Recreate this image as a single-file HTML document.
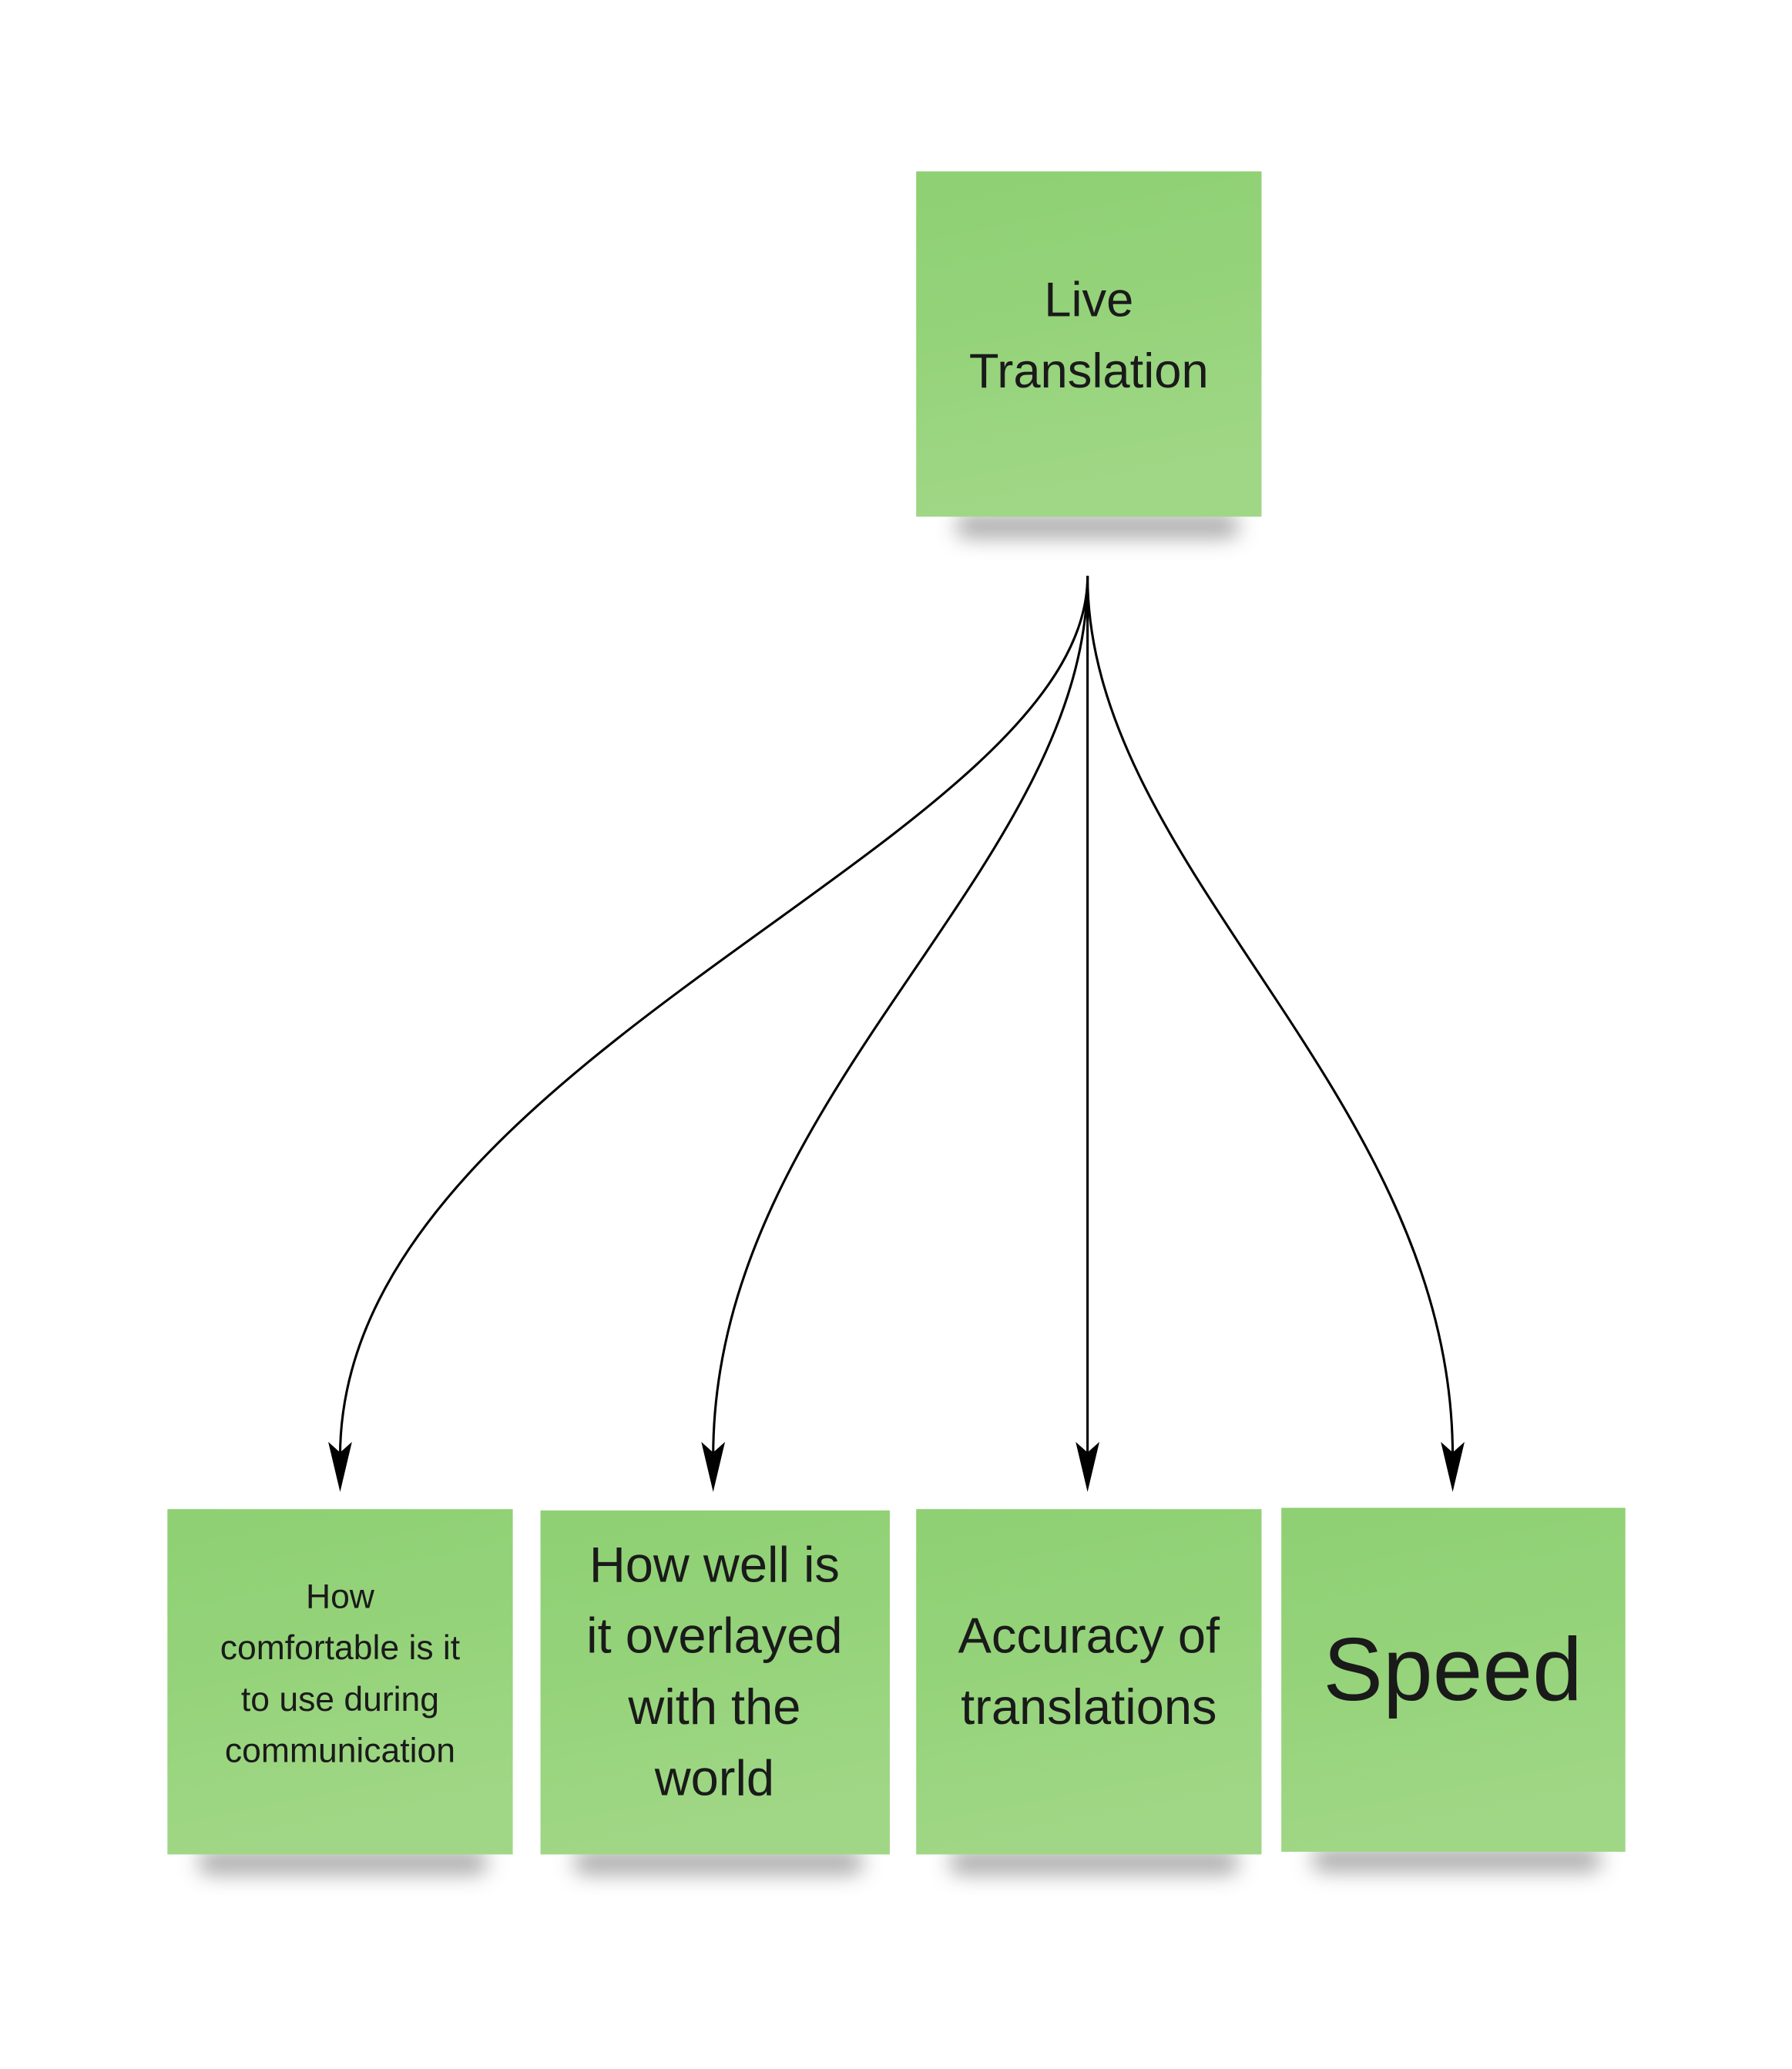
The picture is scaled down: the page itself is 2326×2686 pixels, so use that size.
<!DOCTYPE html>
<html><head><meta charset="utf-8"><style>
html,body{margin:0;padding:0;background:#fff;}
svg{display:block;}
text{font-family:"Liberation Sans",sans-serif;fill:#1a1a1a;text-anchor:middle;}
</style></head><body>
<svg width="2326" height="2686" viewBox="0 0 1359.4 1569.8" xmlns="http://www.w3.org/2000/svg">
<defs>
<linearGradient id="g" x1="0" y1="0" x2="0.2" y2="1">
<stop offset="0" stop-color="#8fd074"/><stop offset="0.5" stop-color="#95d37a"/><stop offset="1" stop-color="#a0d786"/>
</linearGradient>
<filter id="b" x="-30%" y="-200%" width="160%" height="500%"><feGaussianBlur stdDeviation="8"/></filter>
</defs>
<g fill="#555" opacity="0.5" filter="url(#b)">
<rect x="725" y="390" width="215" height="18" rx="9"/>
<rect x="150" y="1404" width="220" height="18" rx="9"/>
<rect x="435" y="1404" width="220" height="18" rx="9"/>
<rect x="720" y="1404" width="220" height="18" rx="9"/>
<rect x="995" y="1402" width="220" height="18" rx="9"/>
</g>
<rect x="695" y="130" width="262" height="262" fill="url(#g)"/>
<rect x="127" y="1145" width="262" height="262" fill="url(#g)"/>
<rect x="410" y="1146" width="265" height="261" fill="url(#g)"/>
<rect x="695" y="1145" width="262" height="262" fill="url(#g)"/>
<rect x="972" y="1144" width="261" height="261" fill="url(#g)"/>
<g fill="none" stroke="#000" stroke-width="1.8">
<path d="M825,437 C825,640 258,800 258,1105"/>
<path d="M825,437 C825,660 541,830 541,1105"/>
<path d="M825,437 L825,1105"/>
<path d="M825,437 C825,660 1102,830 1102,1105"/>
</g>
<g fill="#000">
<path d="M249,1094 L258,1102 L267,1094 L258,1132 Z"/>
<path d="M532,1094 L541,1102 L550,1094 L541,1132 Z"/>
<path d="M816,1094 L825,1102 L834,1094 L825,1132 Z"/>
<path d="M1093,1094 L1102,1102 L1111,1094 L1102,1132 Z"/>
</g>
<text x="826" y="240" font-size="37">Live</text>
<text x="826" y="294" font-size="37">Translation</text>
<text x="258" y="1220" font-size="26">How</text>
<text x="258" y="1259" font-size="26">comfortable is it</text>
<text x="258" y="1298" font-size="26">to use during</text>
<text x="258" y="1337" font-size="26">communication</text>
<text x="542" y="1200" font-size="38">How well is</text>
<text x="542" y="1254" font-size="38">it overlayed</text>
<text x="542" y="1308" font-size="38">with the</text>
<text x="542" y="1362" font-size="38">world</text>
<text x="826" y="1254" font-size="38">Accuracy of</text>
<text x="826" y="1308" font-size="38">translations</text>
<text x="1102" y="1290" font-size="68">Speed</text>
</svg>
</body></html>
